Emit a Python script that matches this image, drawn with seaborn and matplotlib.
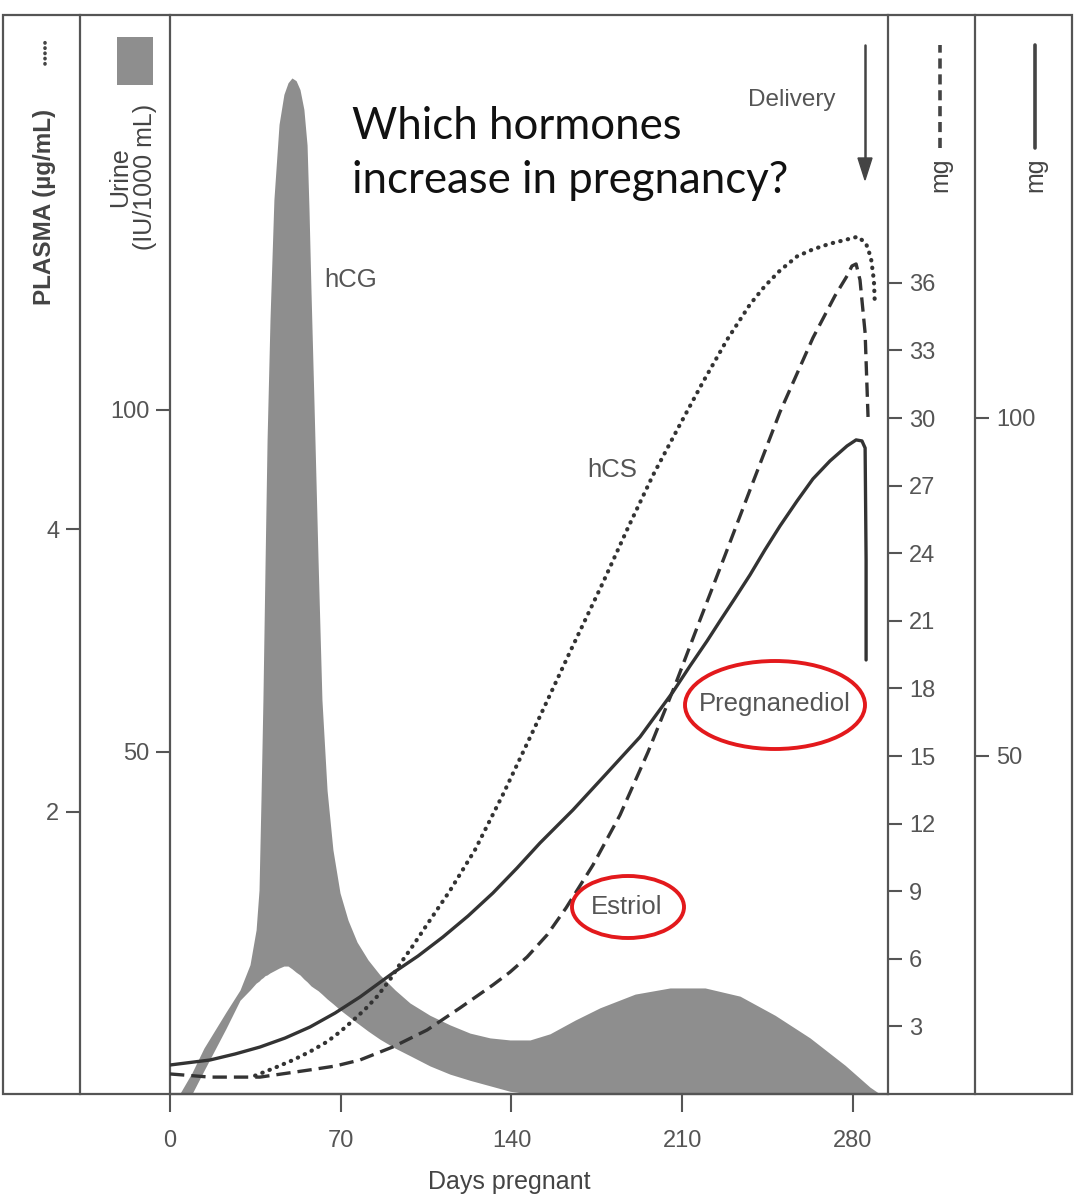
import numpy as np
import pandas as pd
import seaborn as sns
import matplotlib.pyplot as plt
from matplotlib.lines import Line2D
from matplotlib.patches import Rectangle, Ellipse, Polygon
from matplotlib import font_manager

# Hormone levels during pregnancy
# hCG (urine, IU/1000 mL) - shaded band between a lower and an upper edge
hcg_days = [4.1, 9, 13.9, 23, 28.7, 32.8, 35.3, 36.5, 37.3, 38.1, 39, 39.8,
            41, 42.6, 44.7, 46.7, 48.4, 50, 51.7, 53.3, 54.9, 56.2, 57, 57.8,
            59, 60.7, 62.3, 64.4, 66.8, 69.7, 73, 76.7, 81.2, 86.1, 92.3,
            98.4, 106.6, 114.8, 123, 131.2, 139.4, 147.6, 155.8, 166.1,
            176.3, 190.7, 205, 219.4, 233.7, 248.1, 262.4, 276.8, 287, 291.1]
hcg_upper = [0.1, 3.1, 6.7, 12.0, 15.2, 18.9, 24.0, 29.8, 43.0, 57.6, 78.1,
             95.6, 113.2, 130.7, 141.7, 146.1, 147.8, 148.5, 148.1, 146.8,
             143.9, 138.7, 129.2, 117.5, 101.5, 78.1, 57.6, 44.4, 35.7, 29.4,
             25.4, 22.2, 19.6, 17.4, 15.2, 13.3, 11.5, 10.1, 8.9, 8.2, 7.9,
             7.9, 8.8, 10.8, 12.6, 14.6, 15.5, 15.5, 14.3, 11.5, 8.2, 4.2,
             1.0, 0]
hcg_lower = [0, 0, 3.4, 9.6, 13.7, 15.2, 16.2, 16.5, 16.8, 17.0, 17.3, 17.4,
             17.7, 18.0, 18.4, 18.7, 18.7, 18.3, 17.8, 17.4, 16.8, 16.4, 16.1,
             15.8, 15.5, 15.1, 14.6, 13.9, 13.2, 12.3, 11.4, 10.4, 9.2, 8.0,
             6.7, 5.6, 4.1, 2.9, 2.0, 1.2, 0.4, 0, 0, 0, 0, 0, 0, 0, 0, 0, 0,
             0, 0, 0]

# hCS (plasma, ug/mL) - dotted
hcs_days = [34.9, 42.2, 50.4, 57.4, 64.4, 69.7, 75, 80, 84.9, 90.2, 94.3,
            99.6, 105.4, 114.8, 125.1, 136.5, 150.5, 164, 177.5, 187.8, 198,
            209.1, 218.5, 228.4, 237.8, 243.9, 250.1, 257.1, 263.6, 270.6,
            277.6, 282.1, 285.4, 287.4, 288.6, 289]
hcs_vals = [0.13, 0.18, 0.24, 0.30, 0.37, 0.44, 0.52, 0.60, 0.69, 0.81, 0.92,
            1.05, 1.20, 1.44, 1.73, 2.12, 2.63, 3.13, 3.62, 4.01, 4.38, 4.74,
            5.04, 5.34, 5.59, 5.72, 5.83, 5.93, 5.98, 6.02, 6.05, 6.07, 6.02,
            5.92, 5.76, 5.59]

# Estriol (mg) - dashed
estriol_days = [0, 16.4, 36.9, 57.4, 67.7, 77.9, 91.4, 105.4, 118.9, 132.4,
                139.4, 146.4, 154.6, 162.4, 173.4, 184.5, 196, 207.1, 217.3,
                227.6, 237.8, 250.1, 263.6, 272.6, 277.6, 279.6, 281.3, 282.9,
                285, 286.2]
estriol_vals = [0.89, 0.75, 0.75, 1.07, 1.24, 1.51, 2.09, 2.84, 3.82, 4.84,
                5.41, 6.08, 7.06, 8.26, 10.16, 12.38, 15.18, 18.15, 21.04,
                23.92, 26.81, 30.27, 33.56, 35.42, 36.31, 36.75, 36.84, 36.13,
                33.78, 30.05]

# Pregnanediol (mg) - solid
preg_days = [0, 16.4, 26.7, 36.9, 47.2, 57.4, 67.7, 77.9, 91.4, 101.7, 111.9,
             122.2, 132.4, 142.3, 151.7, 165.2, 179.2, 192.7, 206.2, 213.2,
             220.2, 225.5, 231.7, 237.8, 243.9, 250.1, 257.1, 263.6, 270.6,
             277.6, 281.3, 283.7, 285, 285.4, 285.4]
preg_vals = [4.29, 5.03, 5.92, 6.95, 8.28, 9.91, 11.98, 14.35, 17.9, 20.41,
             23.22, 26.33, 29.73, 33.43, 37.13, 42.01, 47.49, 52.81, 59.47,
             63.31, 67.01, 69.97, 73.37, 76.78, 80.47, 84.02, 87.72, 90.98,
             93.64, 95.86, 96.75, 96.6, 95.56, 79.0, 64.2]

day_ticks = [0, 70, 140, 210, 280]
plasma_ticks = [2, 4]
urine_ticks = [50, 100]
estriol_ticks = list(range(3, 37, 3))
preg_ticks = [50, 100]

sns.set_style("white")
names = {f.name for f in font_manager.fontManager.ttflist}
base_font = "Liberation Sans" if "Liberation Sans" in names else "DejaVu Sans"
plt.rcParams['font.family'] = [base_font, 'DejaVu Sans']

GREY = '#555555'
DARK = '#444444'
INK = '#333333'
FILL = '#8e8e8e'
W_PX, H_PX = 1075, 1200

fig = plt.figure(figsize=(10.75, 12), dpi=100)
fig.patch.set_facecolor('white')


def fx(px):
    return px / W_PX


def fy(py):
    return 1 - py / H_PX


ax_left, ax_right, ax_top, ax_bot = 170, 888, 15, 1094
span = ax_right - ax_left
ax = fig.add_axes([fx(ax_left), fy(ax_bot), fx(span),
                   (ax_bot - ax_top) / H_PX])
ax.set_facecolor('none')
ax.set_xlim(0, span / 2.439)
ax.set_ylim(0, 157.7)

# hCG band
ax.fill_between(hcg_days, hcg_lower, hcg_upper, color=FILL, linewidth=0)

# twin axes, one per scale
ax_pl = ax.twinx()
ax_pl.set_ylim(0, 7.639)
ax_es = ax.twinx()
ax_es.set_ylim(0, 47.89)
ax_pr = ax.twinx()
ax_pr.set_ylim(0, 159.6)

sns.lineplot(x=hcs_days, y=hcs_vals, ax=ax_pl, estimator=None, sort=False,
             color=INK, linewidth=3.0, linestyle=(0, (0.1, 1.75)))
ax_pl.lines[-1].set_dash_capstyle('round')
sns.lineplot(x=estriol_days, y=estriol_vals, ax=ax_es, estimator=None,
             sort=False, color=INK, linewidth=2.4, linestyle=(0, (4.3, 2.1)))
sns.lineplot(x=preg_days, y=preg_vals, ax=ax_pr, estimator=None, sort=False,
             color=INK, linewidth=2.4)

tick_kw = dict(labelsize=17, colors=GREY, labelcolor=GREY, length=10,
               width=1.5, direction='out', pad=5)

for a in (ax, ax_pl, ax_es, ax_pr):
    for s in a.spines.values():
        s.set_visible(False)
        s.set_color(GREY)
        s.set_linewidth(1.6)
    a.set_ylabel('')

# urine scale on left spine of main axes
ax.spines['left'].set_visible(True)
ax.spines['bottom'].set_visible(True)
ax.set_yticks(urine_ticks)
ax.tick_params(axis='y', left=True, **tick_kw)
ax.set_xticks(day_ticks)
ax.tick_params(axis='x', bottom=True, labelsize=17, colors=GREY,
               labelcolor=GREY, length=13, width=1.5, direction='out', pad=13)
ax.set_xlabel('Days pregnant', fontsize=18, color=DARK)
ax.xaxis.set_label_coords((509 - ax_left) / span, -0.07)

# plasma scale further left
ax_pl.yaxis.tick_left()
ax_pl.spines['left'].set_visible(True)
ax_pl.spines['left'].set_position(('axes', (80 - ax_left) / span))
ax_pl.set_yticks(plasma_ticks)
ax_pl.tick_params(axis='y', left=True, **tick_kw)

# estriol mg on right spine
ax_es.spines['right'].set_visible(True)
ax_es.set_yticks(estriol_ticks)
ax_es.tick_params(axis='y', right=True, **tick_kw)

# pregnanediol mg further right
ax_pr.spines['right'].set_visible(True)
ax_pr.spines['right'].set_position(('axes', (975 - ax_left) / span))
ax_pr.set_yticks(preg_ticks)
ax_pr.tick_params(axis='y', right=True, **tick_kw)

# outer frame of the panel
fig.add_artist(Rectangle((fx(3), fy(ax_bot)), fx(1072 - 3),
                         (ax_bot - ax_top) / H_PX, transform=fig.transFigure,
                         fill=False, edgecolor=GREY, linewidth=1.6))

# axis headers
fig.text(fx(45), fy(305), 'PLASMA (µg/mL)', rotation=90, ha='center',
         va='bottom', fontsize=17.5, fontweight='bold', color=DARK)
fig.add_artist(Line2D([fx(45), fx(45)], [fy(64), fy(42)], color=DARK,
                      linewidth=2.6, linestyle=(0, (0.1, 1.35)),
                      dash_capstyle='round'))
fig.text(fx(133), fy(177), 'Urine\n(IU/1000 mL)', rotation=90, ha='center',
         va='center', multialignment='center', fontsize=18, color=DARK,
         linespacing=1.05)
fig.add_artist(Rectangle((fx(117), fy(85)), fx(36), 48 / H_PX,
                         transform=fig.transFigure, color=FILL, linewidth=0))
for xm, ls in ((940, (0, (2.8, 1.6))), (1035, '-')):
    fig.text(fx(xm), fy(192), 'mg', rotation=90, ha='center', va='bottom',
             fontsize=18, color=DARK)
    fig.add_artist(Line2D([fx(xm), fx(xm)], [fy(148), fy(45)],
                          color=DARK, linewidth=2.6, linestyle=ls))

# delivery marker
fig.text(fx(792), fy(100), 'Delivery', ha='center', va='center',
         fontsize=17.5, color=GREY)
fig.add_artist(Line2D([fx(865), fx(865)], [fy(45), fy(162)], color=DARK,
                      linewidth=1.8))
fig.add_artist(Polygon([[fx(858), fy(158)], [fx(872), fy(158)],
                        [fx(865), fy(180)]], closed=True,
                       transform=fig.transFigure, color=DARK))

# curve labels
lab = dict(fontsize=18.5, color=GREY, ha='center', va='center')
fig.text(fx(351), fy(280), 'hCG', **lab)
fig.text(fx(612), fy(470), 'hCS', **lab)
fig.text(fx(775), fy(704), 'Pregnanediol', **lab)
fig.text(fx(627), fy(907), 'Estriol', **lab)
fig.add_artist(Ellipse((fx(775), fy(705)), fx(180), 88 / H_PX,
                       transform=fig.transFigure, fill=False,
                       edgecolor='#e3191c', linewidth=2.8))
fig.add_artist(Ellipse((fx(628), fy(907)), fx(112), 62 / H_PX,
                       transform=fig.transFigure, fill=False,
                       edgecolor='#e3191c', linewidth=2.8))

# question overlay, one text per line
title_kw = dict(ha='left', va='baseline', fontsize=31.5, color='#111111',
                family=['Lato', 'DejaVu Sans'])
fig.text(fx(352), fy(139), 'Which hormones', **title_kw)
fig.text(fx(352), fy(193), 'increase in pregnancy?', **title_kw)

fig.savefig('out.png', dpi=100, facecolor='white')
